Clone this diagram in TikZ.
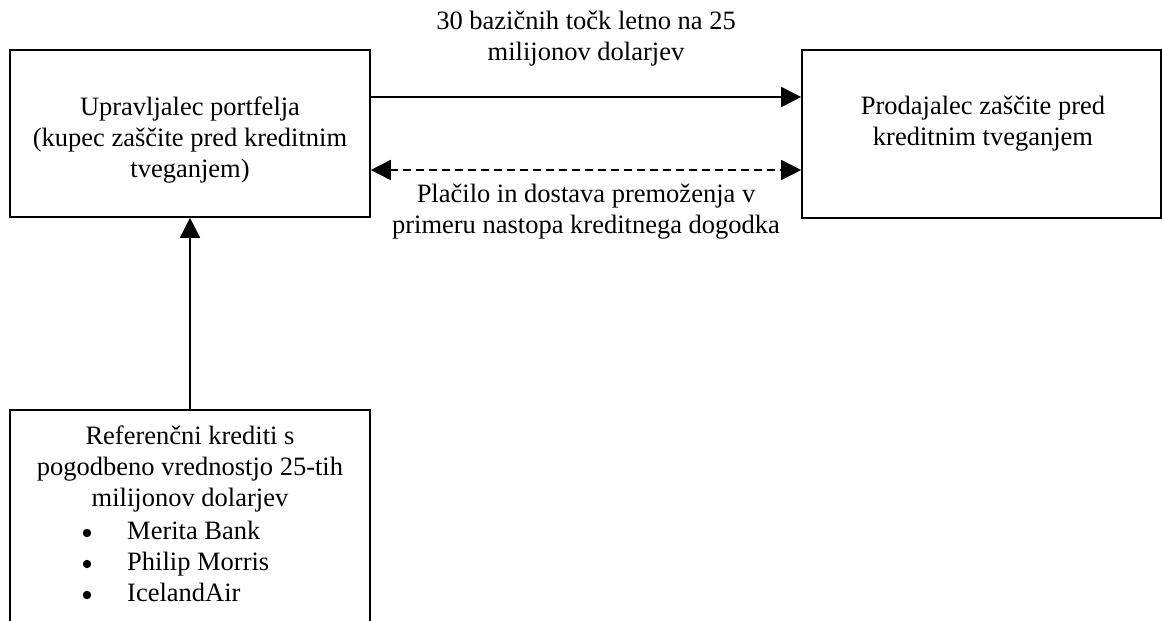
\documentclass[tikz,border=0pt]{standalone}
\usepackage{fontspec}
\setmainfont{Liberation Serif}
\usetikzlibrary{arrows.meta}

\tikzset{
  party/.style={draw, line width=1.6pt, rectangle, inner sep=0pt},
  lbl/.style={align=center, inner sep=0pt, font=\fontsize{26.5}{31}\selectfont},
  flow/.style={line width=1.6pt, -{Triangle[length=20pt, width=20pt]}},
  swap/.style={line width=1.6pt, dash pattern=on 8pt off 5pt,
    {Triangle[length=20pt, width=20pt]}-{Triangle[length=20pt, width=20pt]}},
  bul/.style={inner sep=0pt, font=\fontsize{26.5}{31}\selectfont}
}

\begin{document}
\begin{tikzpicture}[x=1pt, y=-1pt]
\useasboundingbox (0,0) rectangle (1162,621);

% buyer of protection
\node[party, minimum width=360pt, minimum height=167pt] (buyer) at (190,133.5) {};
\node[lbl] (buyertxt) at (190,140) {Upravljalec portfelja\\(kupec zaščite pred kreditnim\\tveganjem)};

% seller of protection
\node[party, minimum width=359pt, minimum height=168pt] (seller) at (981.5,134) {};
\node[lbl] (sellertxt) at (983,124) {Prodajalec zaščite pred\\kreditnim tveganjem};

% reference credits (box runs past the lower edge)
\node[party, minimum width=360pt, minimum height=240pt] (refs) at (190,530) {};
\node[lbl] (refstxt) at (190,469) {Referenčni krediti s\\pogodbeno vrednostjo 25-tih\\milijonov dolarjev};
\node[bul, anchor=base west] (i1) at (127,539) {Merita Bank};
\node[bul, anchor=base west] (i2) at (127,570) {Philip Morris};
\node[bul, anchor=base west] (i3) at (127,601) {IcelandAir};
\fill (i1.base west) ++(-40pt,6pt) circle (4.2pt);
\fill (i2.base west) ++(-40pt,6pt) circle (4.2pt);
\fill (i3.base west) ++(-40pt,6pt) circle (4.2pt);

% premium payments
\draw[flow] ([yshift=36.5pt]buyer.east) -- ([yshift=36.5pt]buyer.east -| seller.west);
\node[lbl] (premium) at (586,39) {30 bazičnih točk letno na 25\\milijonov dolarjev};

% settlement on a credit event
\draw[swap] ([yshift=-36.5pt]buyer.east) -- ([yshift=-36.5pt]buyer.east -| seller.west);
\node[lbl] (settle) at (586,212) {Plačilo in dostava premoženja v\\primeru nastopa kreditnega dogodka};

% reference credits to the portfolio manager
\draw[flow] (refs.north) -- (buyer.south);
\end{tikzpicture}
\end{document}
